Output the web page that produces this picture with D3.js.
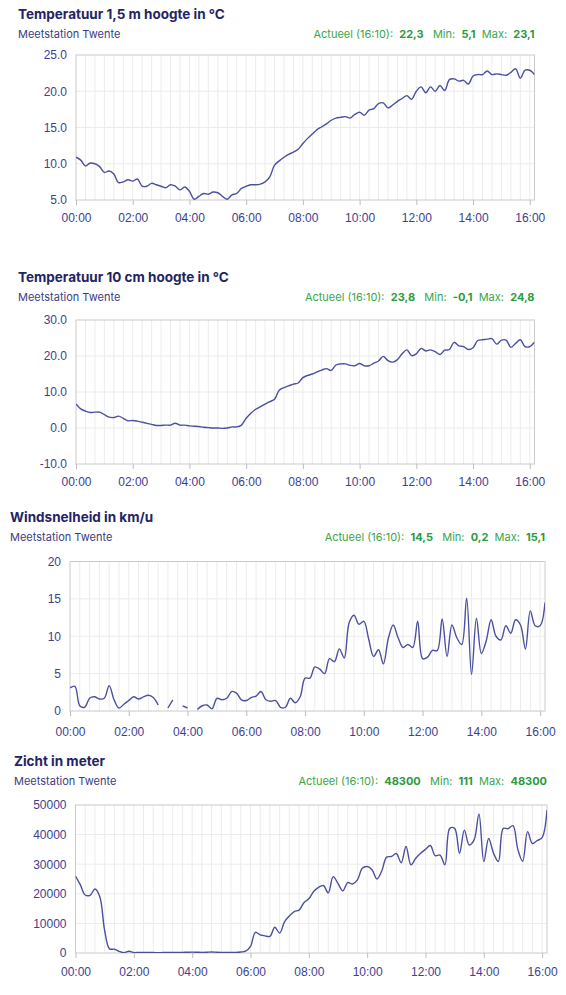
<!DOCTYPE html>
<html>
<head>
<meta charset="utf-8">
<script src="https://cdn.jsdelivr.net/npm/d3@7"></script>
<style>
  body { margin: 0; background: #fff; }
  svg { font-family: Inter, "Noto Sans", sans-serif; }
  .title { font-size: 13.5px; font-weight: 700; fill: #232463; }
  .sub { font-size: 11px; fill: #3b3d7e; }
  .stat { font-size: 11px; fill: #3aa54b; }
  .stat .b { font-weight: 700; fill: #2b9a3e; }
  .tick text { font-size: 12px; fill: #3d4190; }
</style>
</head>
<body>
<svg id="chart" width="566" height="995"></svg>
<script>
// meetmomenten, elke 10 minuten
var times = [
  "00:00","00:10","00:20","00:30","00:40","00:50",
  "01:00","01:10","01:20","01:30","01:40","01:50",
  "02:00","02:10","02:20","02:30","02:40","02:50",
  "03:00","03:10","03:20","03:30","03:40","03:50",
  "04:00","04:10","04:20","04:30","04:40","04:50",
  "05:00","05:10","05:20","05:30","05:40","05:50",
  "06:00","06:10","06:20","06:30","06:40","06:50",
  "07:00","07:10","07:20","07:30","07:40","07:50",
  "08:00","08:10","08:20","08:30","08:40","08:50",
  "09:00","09:10","09:20","09:30","09:40","09:50",
  "10:00","10:10","10:20","10:30","10:40","10:50",
  "11:00","11:10","11:20","11:30","11:40","11:50",
  "12:00","12:10","12:20","12:30","12:40","12:50",
  "13:00","13:10","13:20","13:30","13:40","13:50",
  "14:00","14:10","14:20","14:30","14:40","14:50",
  "15:00","15:10","15:20","15:30","15:40","15:50",
  "16:00","16:10"
];

var temp150 = [
  10.9,10.5,9.7,10.1,10.0,9.6,
  8.8,9.0,8.6,7.4,7.5,7.8,
  7.6,7.9,6.9,6.9,7.3,7.1,
  6.9,6.7,7.1,6.9,6.4,6.8,
  6.2,5.1,5.5,5.9,5.8,6.1,
  6.0,5.5,5.1,5.7,5.9,6.6,
  6.9,7.1,7.1,7.2,7.5,8.2,
  9.8,10.4,10.9,11.3,11.6,12.0,
  12.8,13.5,14.1,14.7,15.1,15.5,
  16.0,16.3,16.4,16.5,16.3,16.8,
  17.1,16.7,17.4,17.6,18.3,18.4,
  17.7,18.1,18.6,19.0,19.4,18.9,
  20.0,20.6,19.8,20.6,20.0,20.8,
  20.1,21.6,21.7,21.4,21.5,21.0,
  22.1,22.3,22.3,22.8,22.3,22.4,
  22.3,22.2,22.6,23.1,21.8,22.9,
  22.9,22.3
];

var temp10 = [
  6.7,5.3,4.7,4.3,4.4,4.4,
  3.7,3.0,2.9,3.3,2.7,2.0,
  2.1,1.9,1.6,1.3,1.0,0.7,
  0.7,0.8,0.8,1.3,0.8,0.8,
  0.6,0.5,0.4,0.2,0.1,0.0,
  0.0,-0.1,0.0,0.3,0.3,0.8,
  2.7,4.1,5.2,5.9,6.6,7.3,
  8.0,10.5,11.2,11.7,12.2,12.5,
  14.0,14.6,15.0,15.6,16.1,16.5,
  16.0,17.5,17.8,17.8,17.4,17.3,
  17.9,17.3,17.3,18.0,18.6,19.9,
  18.7,18.3,19.0,20.6,21.7,20.1,
  20.6,22.1,21.4,21.7,21.2,20.4,
  21.6,21.8,23.8,22.8,22.6,21.8,
  22.3,24.3,24.5,24.7,24.8,23.3,
  24.4,24.4,22.4,23.5,24.5,22.6,
  22.6,23.8
];

// null = geen meting
var wind = [
  3.1,3.3,0.7,0.5,1.7,1.9,
  1.6,1.7,3.4,1.5,0.4,0.9,
  1.4,1.9,1.6,1.9,2.1,1.8,
  0.8,null,0.4,1.5,null,0.7,
  0.4,null,0.2,0.7,0.8,0.3,
  1.7,1.5,1.7,2.6,2.4,1.5,
  1.4,1.8,2.0,2.6,1.5,1.3,
  1.4,0.5,0.5,1.7,1.1,1.9,
  4.4,4.4,5.9,5.6,5.0,7.0,
  6.6,8.3,7.1,11.8,12.8,11.6,
  12.0,9.6,7.3,8.2,6.3,9.7,
  11.5,9.8,8.5,8.9,8.5,12.0,
  7.0,7.2,8.1,8.1,12.3,7.3,
  11.5,9.8,8.9,15.1,4.9,12.4,
  7.7,9.4,12.2,10.0,9.5,11.4,
  10.4,12.2,11.5,8.3,13.4,11.4,
  11.4,14.5
];

var zicht = [
  26000,23000,19600,19500,21600,19000,
  7600,1400,1300,550,111,600,
  150,200,180,150,150,130,
  150,150,180,200,220,250,
  300,260,220,250,350,250,
  180,150,150,200,350,600,
  2200,7000,6100,5800,5600,8700,
  6700,10500,12500,14000,14500,17000,
  18300,20800,22200,22800,20300,25800,
  23500,21000,23800,23300,24700,28600,
  29200,28100,25000,27700,32400,32600,
  33600,30500,36000,29800,32000,33700,
  35000,36300,32900,33100,29800,42100,
  42100,33700,41500,36500,38200,47000,
  30900,38700,33700,30900,42100,42000,
  43000,35000,31000,41000,37000,38000,
  39000,48300
];

var station = "Meetstation Twente";
var xTickTimes = ["00:00","02:00","04:00","06:00","08:00","10:00","12:00","14:00","16:00"];
var ticks150 = [5, 10, 15, 20, 25];
var ticks10 = [-10, 0, 10, 20, 30];
var ticksWind = [0, 5, 10, 15, 20];
var ticksZicht = [0, 10000, 20000, 30000, 40000, 50000];

var svg = d3.select("#chart");
var toMin = (s) => +s.slice(0, 2) * 60 + +s.slice(3);
// gewoon koppelteken i.p.v. het minteken van d3
var fmt = (f) => (v) => d3.format(f)(v).replace("\u2212", "-");
var comma = (f) => (v) => fmt(f)(v).replace(".", ",");

const drawChart = (p, n) => {
  var g = svg.append("g");
  var x = d3.scaleLinear().domain([0, toMin(times[times.length - 1])]).range([p.left, p.right]);
  var y = d3.scaleLinear().domain(d3.extent(p.ticks)).range([p.bottom, p.top]);

  // koppen
  g.append("text").attr("class", "title").attr("x", p.tx).attr("y", p.ty).text(p.title);
  g.append("text").attr("class", "sub").attr("x", p.tx).attr("y", p.ty + 19).text(station);

  var vals = p.values.filter((v) => v != null);
  var st = g.append("text").attr("class", "stat")
    .attr("x", p.right).attr("y", p.ty + 19).attr("text-anchor", "end");
  st.append("tspan").text("Actueel (" + times[times.length - 1] + "):\u00a0 ");
  st.append("tspan").attr("class", "b").text(p.sf(p.values[p.values.length - 1]));
  st.append("tspan").text("\u00a0\u00a0 Min:\u00a0 ");
  st.append("tspan").attr("class", "b").text(p.sf(d3.min(vals)));
  st.append("tspan").text("\u00a0 Max:\u00a0 ");
  st.append("tspan").attr("class", "b").text(p.sf(d3.max(vals)));

  // raster
  var gridX = times.map(toMin).filter((m) => m % 20 == 0 && m > 0);
  g.append("g").selectAll("line").data(gridX).enter().append("line")
    .attr("x1", (d) => x(d)).attr("x2", (d) => x(d))
    .attr("y1", p.top).attr("y2", p.bottom)
    .attr("stroke", "#ececec");
  g.append("g").selectAll("line").data(p.ticks.slice(1, -1)).enter().append("line")
    .attr("x1", p.left).attr("x2", p.right)
    .attr("y1", (d) => y(d)).attr("y2", (d) => y(d))
    .attr("stroke", "#ececec");
  g.append("rect")
    .attr("x", p.left).attr("y", p.top)
    .attr("width", p.right - p.left).attr("height", p.bottom - p.top)
    .attr("fill", "none").attr("stroke", "#cacaca");

  // assen
  var ax = g.append("g")
    .attr("transform", `translate(0 ${p.bottom})`)
    .call(d3.axisBottom(x).tickValues(xTickTimes.map(toMin)).tickSize(5)
      .tickPadding(p.xpad).tickFormat((m) => xTickTimes[m / 120]));
  ax.select(".domain").remove();
  ax.selectAll(".tick line").attr("stroke", "#bdbdbd");

  var ay = g.append("g")
    .attr("transform", `translate(${p.left} 0)`)
    .call(d3.axisLeft(y).tickValues(p.ticks).tickSize(0).tickPadding(9).tickFormat(p.yf));
  ay.select(".domain").remove();

  // lijn
  svg.append("clipPath").attr("id", "clip" + n).append("rect")
    .attr("x", p.left).attr("y", p.top - 1)
    .attr("width", p.right - p.left).attr("height", p.bottom - p.top + 1);

  var line = d3.line()
    .defined((d) => d.v != null)
    .x((d) => x(d.t))
    .y((d) => y(d.v))
    .curve(d3.curveCatmullRom.alpha(0.5));

  var data = times.map((t, i) => ({ t: toMin(t), v: p.values[i] }));
  g.append("path")
    .datum(data)
    .attr("clip-path", `url(#clip${n})`)
    .attr("fill", "none")
    .attr("stroke", "#4b509e")
    .attr("stroke-width", 1.4)
    .attr("d", line);
};

var panels = [
  { title: "Temperatuur 1,5 m hoogte in °C", values: temp150, ticks: ticks150,
    yf: fmt(".1f"), sf: comma(".1f"),
    tx: 18, ty: 19, left: 76, right: 534.5, top: 55, bottom: 200, xpad: 8 },
  { title: "Temperatuur 10 cm hoogte in °C", values: temp10, ticks: ticks10,
    yf: fmt(".1f"), sf: comma(".1f"),
    tx: 18, ty: 282, left: 76, right: 534.5, top: 320, bottom: 464, xpad: 8 },
  { title: "Windsnelheid in km/u", values: wind, ticks: ticksWind,
    yf: fmt("d"), sf: comma(".1f"),
    tx: 10, ty: 522, left: 70, right: 545, top: 561.5, bottom: 711, xpad: 11 },
  { title: "Zicht in meter", values: zicht, ticks: ticksZicht,
    yf: fmt("d"), sf: fmt("d"),
    tx: 14, ty: 766, left: 75.5, right: 547, top: 805, bottom: 953, xpad: 9 }
];

panels.forEach((p, i) => drawChart(p, i));
</script>
</body>
</html>
